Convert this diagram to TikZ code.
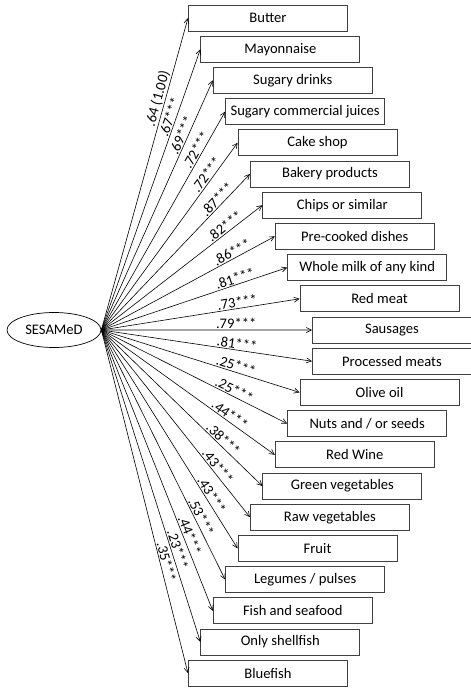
\documentclass[tikz,border=0pt]{standalone}
\usepackage{fontspec}
\setmainfont{Carlito}
\usetikzlibrary{shapes.geometric,arrows.meta}
\tikzset{food/.style = {draw=black!75, line width=0.9pt, minimum width=159pt, minimum height=26pt, inner sep=0pt, anchor=west},
         load/.style = {-{Straight Barb[length=5pt,width=5pt]}, line width=0.6pt},
         coef/.style = {sloped, above, inner sep=1pt}}

\begin{document}
\begin{tikzpicture}[x=1pt,y=1pt,font=\fontsize{14.6}{16}\selectfont]
\useasboundingbox (0,0) rectangle (471,-689);
\node [ellipse, draw, line width=0.7pt, minimum width=94pt, minimum height=35pt, inner sep=0pt] (sesamed) at (54,-330) {SESAMeD};
\foreach \i/\txt/\coefval/\lp in {0/Butter/{.64 (1.00)}/.735, 1/Mayonnaise/.67***/.75,
    2/Sugary drinks/.69***/.77, 3/Sugary commercial juices/.72***/.81,
    4/Cake shop/.72***/.81, 5/Bakery products/.87***/.81,
    6/Chips or similar/.82***/.79, 7/Pre-cooked dishes/.86***/.77,
    8/Whole milk of any kind/.81***/.73, 9/Red meat/.73***/.69,
    10/Sausages/.79***/.64, 11/Processed meats/.81***/.64,
    12/Olive oil/.25***/.67, 13/{Nuts and / or seeds}/.25***/.70,
    14/Red Wine/.44***/.72, 15/Green vegetables/.38***/.73,
    16/Raw vegetables/.43***/.75, 17/Fruit/.43***/.77,
    18/{Legumes / pulses}/.53***/.76, 19/Fish and seafood/.44***/.74,
    20/Only shellfish/.23***/.71, 21/Bluefish/.35***/.68}{
  \pgfmathsetmacro\k{min(\i,21-\i)}
  \node [food] (food\i) at ({188+12.4*\k},{-18-31.2*\i}) {\txt};
  \draw [load] (sesamed.east) -- (food\i.west) node [coef, pos=\lp] {\coefval};
}
\end{tikzpicture}
\end{document}
